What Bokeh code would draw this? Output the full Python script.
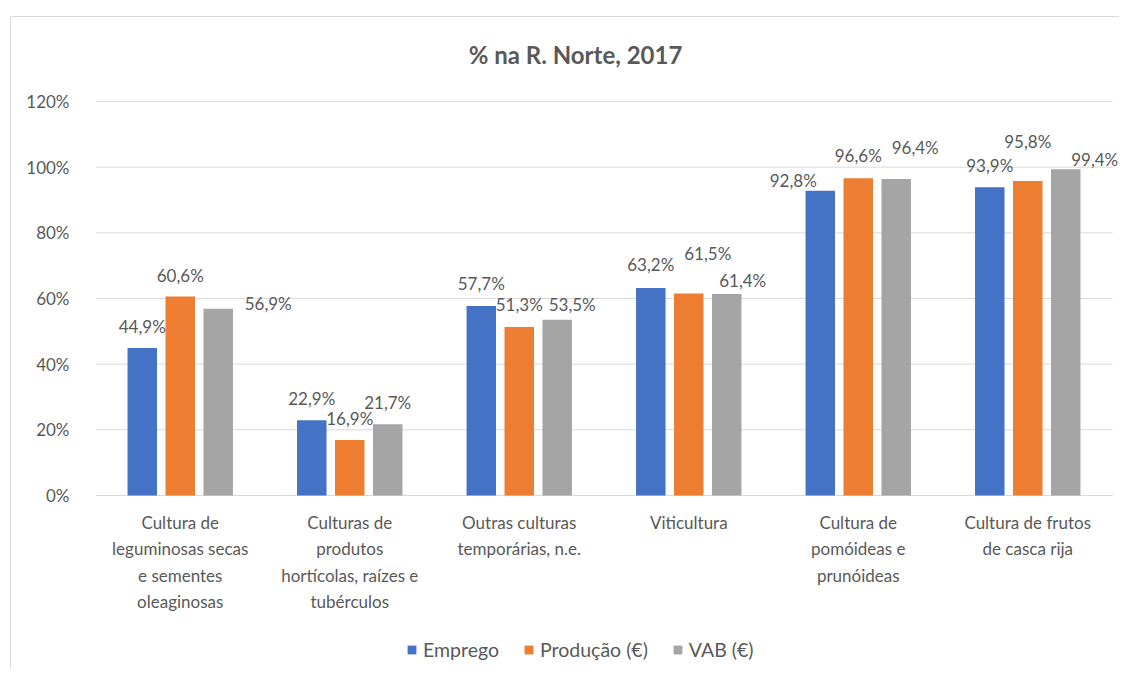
from bokeh.plotting import figure
from bokeh.models import (ColumnDataSource, LabelSet, Label, Legend, LegendItem,
                          FixedTicker, NumeralTickFormatter, Range1d)
from bokeh.core.properties import value
from bokeh.embed import file_html
from bokeh.resources import INLINE

# ---- data ----
categories = [
    "Cultura de\nleguminosas secas\ne sementes\noleaginosas",
    "Culturas de\nprodutos\nhortícolas, raízes e\ntubérculos",
    "Outras culturas\ntemporárias, n.e.",
    "Viticultura",
    "Cultura de\npomóideas e\nprunóideas",
    "Cultura de frutos\nde casca rija",
]
series_names = ["Emprego", "Produção (€)", "VAB (€)"]
emprego = [0.449, 0.229, 0.577, 0.632, 0.928, 0.939]
producao = [0.606, 0.169, 0.513, 0.615, 0.966, 0.958]
vab = [0.569, 0.217, 0.535, 0.614, 0.964, 0.994]
y_ticks = [0, 0.2, 0.4, 0.6, 0.8, 1.0, 1.2]

# ---- styles ----
colors = ["#4472C4", "#ED7D31", "#A5A5A5"]
dodge = [-0.224, 0.0, 0.224]
bar_w = 0.174
# label nudges in pixels (dx, dy above bar top), per series per category
nudges = [
    [(0, 22), (0, 22), (0, 23), (0, 23), (-27, 10), (0, 22)],
    [(0, 21), (0, 22), (0, 23), (19, 40), (0, 23), (0, 39)],
    [(50, 5), (0, 22), (15, 15), (16, 13), (19, 31), (29, 10)],
]
FONT = "Lato"
TXT = "#595959"
GRID = "#D9D9D9"
PX_Y = 394 / 1.2      # pixels per unit on y
PX_X = 169.5          # pixels per category
LINE_H = 26.3         # category label line spacing, px

p = figure(width=1109, height=653, output_backend="svg", toolbar_location=None,
           x_axis_location=None,
           x_range=Range1d(-0.5, -0.5 + 1025 / PX_X),
           y_range=Range1d(-175 / PX_Y, 1.2 + 84 / PX_Y),
           min_border_left=84, min_border_right=0, min_border_top=0,
           min_border_bottom=0)
p.margin = (16, 0, 0, 10)
p.styles = {"border-left": f"1px solid {GRID}", "border-top": f"1px solid {GRID}"}
p.outline_line_color = None
p.background_fill_color = "white"
p.border_fill_color = "white"
p.xgrid.grid_line_color = None
p.ygrid.grid_line_color = None

# gridlines (and baseline) limited to the category span
p.segment(x0=[-0.5] * len(y_ticks), x1=[5.5] * len(y_ticks),
          y0=y_ticks, y1=y_ticks, line_color=GRID, line_width=1)

renderers = []
for s, vals in enumerate([emprego, producao, vab]):
    xs = [i + dodge[s] for i in range(len(categories))]
    src = ColumnDataSource(dict(
        x=xs, top=vals,
        lbl=[f"{v*100:.1f}%".replace(".", ",") for v in vals],
        dx=[n[0] for n in nudges[s]],
        dy=[n[1] for n in nudges[s]],
    ))
    r = p.vbar(x="x", top="top", width=bar_w, bottom=0, source=src,
               fill_color=colors[s], line_color=None)
    renderers.append(r)
    p.add_layout(LabelSet(x="x", y="top", text="lbl", source=src,
                          x_offset="dx", y_offset="dy",
                          text_align="center", text_baseline="middle",
                          text_font=value(FONT), text_font_size=value("17px"),
                          text_color=TXT))

# category labels under the baseline, each line centred
split = [c.split("\n") for c in categories]
n_lines = max(len(s) for s in split)
for k in range(n_lines):
    xs = [i for i, s in enumerate(split) if len(s) > k]
    ts = [s[k] for s in split if len(s) > k]
    src = ColumnDataSource(dict(x=xs, y=[0] * len(xs), t=ts))
    p.add_layout(LabelSet(x="x", y="y", text="t", source=src,
                          y_offset=-(27 + LINE_H * k),
                          text_align="center", text_baseline="middle",
                          text_font=value(FONT), text_font_size=value("17px"),
                          text_color=TXT))

# y axis
p.yaxis.ticker = FixedTicker(ticks=y_ticks)
p.yaxis.formatter = NumeralTickFormatter(format="0%")
p.yaxis.axis_line_color = None
p.yaxis.major_tick_line_color = None
p.yaxis.minor_tick_line_color = None
p.yaxis.major_label_text_font = FONT
p.yaxis.major_label_text_font_size = "17px"
p.yaxis.major_label_text_color = TXT
p.yaxis.major_label_standoff = 20

# title
p.add_layout(Label(x=480, y=616, x_units="screen", y_units="screen",
                   text="% na R. Norte, 2017", text_align="center",
                   text_baseline="middle", text_font=FONT,
                   text_font_style="bold", text_font_size="24px",
                   text_color=TXT))

# legend
legend = Legend(items=[LegendItem(label=n, renderers=[r]) for n, r in zip(series_names, renderers)],
                orientation="horizontal", location=(311, 9),
                glyph_width=11, glyph_height=11, label_standoff=6, spacing=24,
                padding=0, margin=0, border_line_color=None,
                background_fill_alpha=0,
                label_text_font=FONT, label_text_font_size="19.5px",
                label_text_color=TXT, label_height=20)
p.add_layout(legend, "center")

open("out.html", "w").write(file_html(p, INLINE))
